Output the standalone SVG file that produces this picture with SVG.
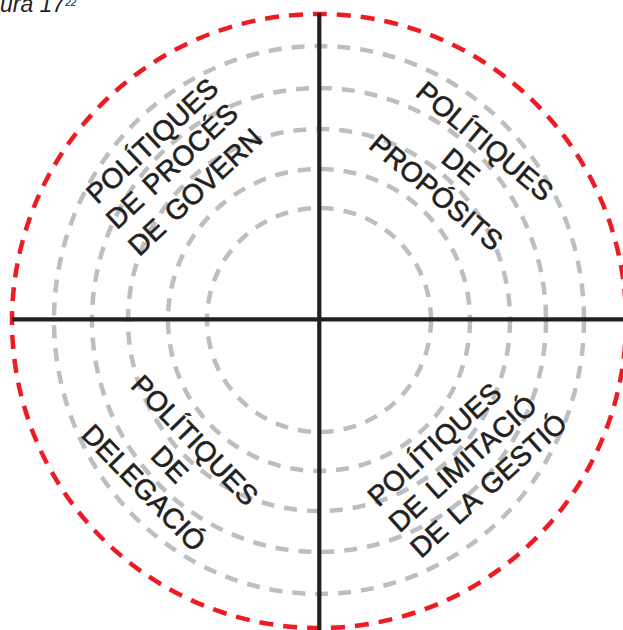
<svg xmlns="http://www.w3.org/2000/svg" width="623" height="630" viewBox="0 0 623 630">
<style>
.g{fill:none;stroke:#bcbec0;stroke-width:4.5;stroke-dasharray:13 10}
.r{fill:none;stroke:#ed1c24;stroke-width:4.5;stroke-dasharray:14 10}
.ax{stroke:#231f20;stroke-width:4.2}
.t{font-family:"Liberation Sans",Arial,sans-serif;font-size:28px;fill:#231f20;stroke:#231f20;stroke-width:0.6;text-anchor:middle;word-spacing:3px}
.ttl{font-family:"Liberation Sans",Arial,sans-serif;font-style:italic;fill:#231f20}
</style>
<rect width="623" height="630" fill="#fff"/>
<g id="rings">
<ellipse class="g" cx="319" cy="320" rx="265" ry="274"/>
<ellipse class="g" cx="319" cy="320" rx="227" ry="232"/>
<circle class="g" cx="319" cy="320" r="191"/>
<circle class="g" cx="319" cy="320" r="151"/>
<circle class="g" cx="319" cy="320" r="112"/>
<circle class="r" cx="319" cy="321" r="307"/>
</g>
<g id="connectors">
<line class="ax" x1="319.3" y1="13" x2="319.3" y2="630"/>
<line class="ax" x1="12" y1="319.3" x2="623" y2="319.3"/>
</g>
<g id="title">
<text class="ttl" x="-32" y="12" font-size="23">Figura 17<tspan dy="-6" font-size="10">22</tspan></text>
</g>
<g id="govern">
<text class="t" transform="translate(152,140.5) rotate(-43)" y="10">POLÍTIQUES</text>
<text class="t" transform="translate(171.7,165.8) rotate(-43)" y="10">DE PROCÉS</text>
<text class="t" transform="translate(195,191.7) rotate(-43)" y="10">DE GOVERN</text>
</g>
<g id="proposits">
<text class="t" transform="translate(485,141) rotate(40)" y="10">POLÍTIQUES</text>
<text class="t" transform="translate(461,166) rotate(40)" y="10">DE</text>
<text class="t" transform="translate(436.5,192) rotate(40)" y="10">PROPÓSITS</text>
</g>
<g id="delegacio">
<text class="t" transform="translate(195,440) rotate(46)" y="10">POLÍTIQUES</text>
<text class="t" transform="translate(170,464) rotate(46)" y="10">DE</text>
<text class="t" transform="translate(144,487.5) rotate(46)" y="10">DELEGACIÓ</text>
</g>
<g id="limitacio">
<text class="t" transform="translate(434.2,444.2) rotate(-42)" y="10">POLÍTIQUES</text>
<text class="t" transform="translate(462.5,463.3) rotate(-42)" y="10">DE LIMITACIÓ</text>
<text class="t" transform="translate(488.3,485) rotate(-42)" y="10">DE LA GESTIÓ</text>
</g>
</svg>
